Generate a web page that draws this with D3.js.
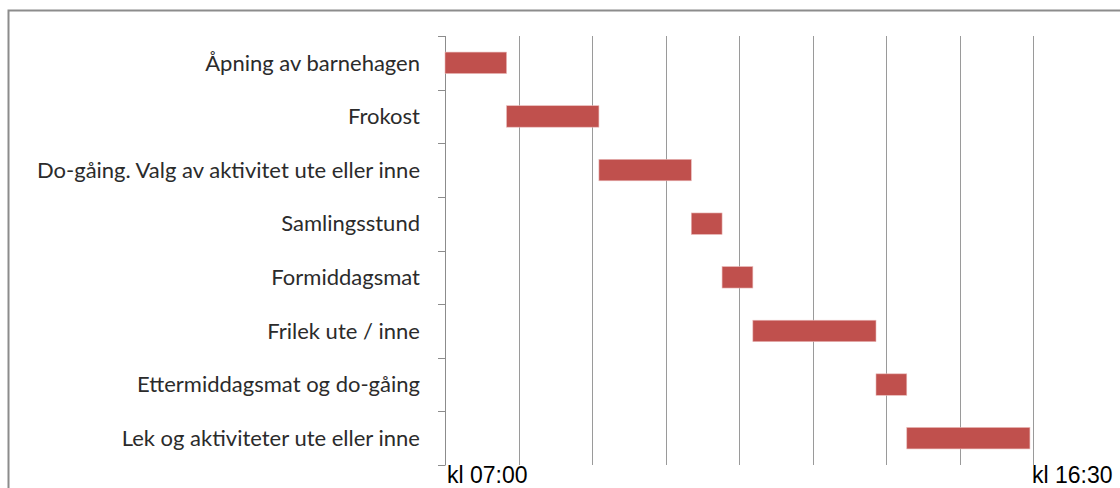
<!DOCTYPE html>
<html>
<head>
<meta charset="utf-8">
<script src="https://cdn.jsdelivr.net/npm/d3@7"></script>
<style>
    html, body { margin: 0; padding: 0; background: #fff; overflow: hidden; }
    svg { display: block; }
</style>
</head>
<body>
<div id="chart"></div>
<script>
// activities, top to bottom
var activities = [
    "Åpning av barnehagen",
    "Frokost",
    "Do-gåing. Valg av aktivitet ute eller inne",
    "Samlingsstund",
    "Formiddagsmat",
    "Frilek ute / inne",
    "Ettermiddagsmat og do-gåing",
    "Lek og aktiviteter ute eller inne"
];
// start / end in hours of the day
var startHours = [7.0, 8.0, 9.5, 11.0, 11.5, 12.0, 14.0, 14.5];
var endHours = [8.0, 9.5, 11.0, 11.5, 12.0, 14.0, 14.5, 16.5];
// value axis (Excel auto range, 8 major units)
var axisMin = 7.0, axisMax = 16.55, majorCount = 8;
var tickLabels = ["kl 07:00", "kl 16:30"];
var tickLabelHours = [7.0, 16.5];

(function () {
    "use strict";

    var W = 1120, H = 488;
    var left = 445, right = 1033, top = 36, bottom = 465;

    var svg = d3.select("#chart").append("svg:svg")
        .attr("width", W)
        .attr("height", H);

    // chart frame
    svg.append("svg:rect")
        .attr("x", 8.5).attr("y", 10.5)
        .attr("width", W + 20).attr("height", H + 20)
        .attr("fill", "#fff")
        .attr("stroke", "#8c8c8c")
        .attr("stroke-width", 2);

    var x = d3.scaleLinear().domain([axisMin, axisMax]).range([left, right]);
    var y = d3.scaleBand().domain(activities).range([top, bottom]);

    // vertical gridlines
    var step = (axisMax - axisMin) / majorCount;
    var grid = d3.range(1, majorCount + 1).map(function (i) { return axisMin + i * step; });
    svg.append("g").selectAll("line")
        .data(grid)
        .enter().append("svg:line")
        .attr("x1", function (d) { return Math.round(x(d)) + 0.5; })
        .attr("x2", function (d) { return Math.round(x(d)) + 0.5; })
        .attr("y1", top)
        .attr("y2", bottom)
        .attr("stroke", "#9a9a9a")
        .attr("stroke-width", 1);

    // category axis with ticks between categories
    var bounds = activities.map(function (d) { return y(d); }).concat([bottom]);
    var cat = svg.append("g");
    cat.append("svg:line")
        .attr("x1", left + 0.5).attr("x2", left + 0.5)
        .attr("y1", top).attr("y2", bottom)
        .attr("stroke", "#8c8c8c");
    cat.selectAll("line.tick")
        .data(bounds)
        .enter().append("svg:line")
        .attr("class", "tick")
        .attr("x1", left - 7).attr("x2", left + 0.5)
        .attr("y1", function (d) { return Math.round(d) + 0.5; })
        .attr("y2", function (d) { return Math.round(d) + 0.5; })
        .attr("stroke", "#8c8c8c");
    cat.selectAll("text")
        .data(activities)
        .enter().append("svg:text")
        .attr("x", left - 25)
        .attr("y", function (d) { return y(d) + y.bandwidth() / 2; })
        .attr("dy", "0.35em")
        .attr("text-anchor", "end")
        .attr("font-family", "Lato, 'Open Sans', sans-serif")
        .attr("font-size", 22)
        .attr("fill", "#2b2b2b")
        .text(function (d) { return d; });

    // bars
    var barH = y.bandwidth() * 0.4;
    svg.append("g").selectAll("rect")
        .data(activities)
        .enter().append("svg:rect")
        .attr("x", function (d, i) { return x(startHours[i]); })
        .attr("y", function (d) { return y(d) + (y.bandwidth() - barH) / 2; })
        .attr("width", function (d, i) { return x(endHours[i]) - x(startHours[i]); })
        .attr("height", barH)
        .attr("fill", "#c0504d")
        .attr("stroke", "#e8b8b7")
        .attr("stroke-width", 0.6);

    // time labels
    svg.append("g").selectAll("text")
        .data(tickLabels)
        .enter().append("svg:text")
        .attr("x", function (d, i) { return Math.round(x(tickLabelHours[i])) + 2; })
        .attr("y", 483)
        .attr("font-family", "'Liberation Sans', Arial, sans-serif")
        .attr("font-size", 23)
        .attr("fill", "#000")
        .text(function (d) { return d; });
})();
</script>
</body>
</html>
